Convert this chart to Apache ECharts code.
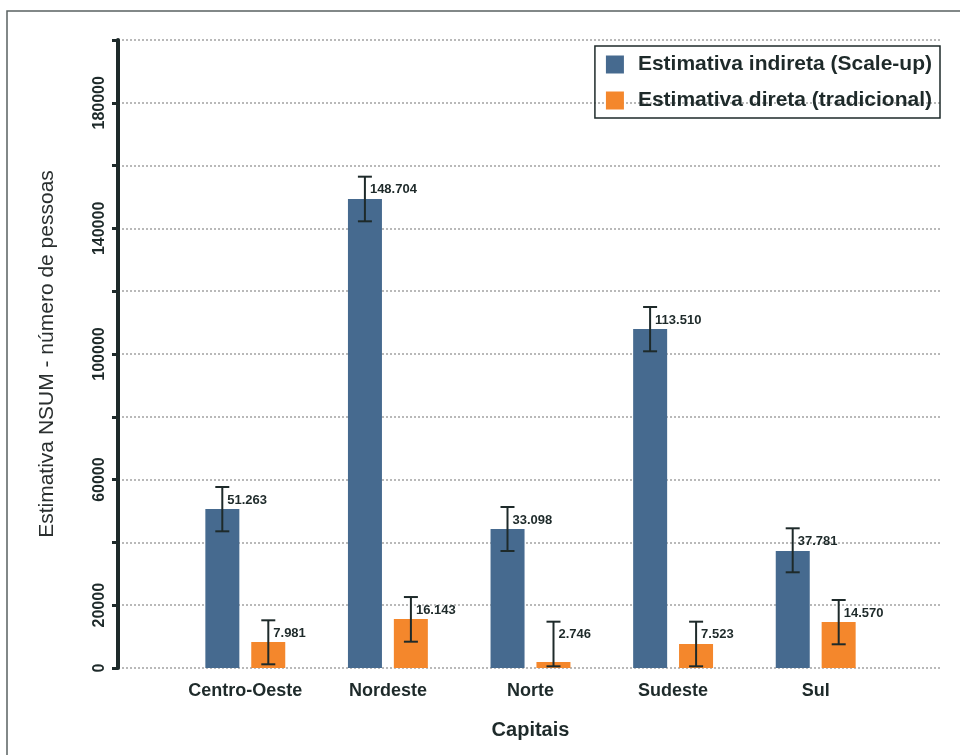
<!DOCTYPE html>
<html>
<head>
<meta charset="utf-8">
<script src="https://cdn.jsdelivr.net/npm/echarts@6/dist/echarts.min.js"></script>
<style>
  html, body { margin: 0; padding: 0; background: #ffffff; }
  #chart { width: 960px; height: 755px; }
</style>
</head>
<body>
<div id="chart"></div>
<script>
// ---- Data ----
const categories = ['Centro-Oeste', 'Nordeste', 'Norte', 'Sudeste', 'Sul'];
const seriesNames = ['Estimativa indireta (Scale-up)', 'Estimativa direta (tradicional)'];

const indiretaValues = [50640, 149360, 44270, 107960, 37260];
const indiretaLow    = [43530, 142260, 37260, 100860, 30480];
const indiretaHigh   = [57640, 156470, 51270, 114970, 44490];
const indiretaLabels = ['51.263', '148.704', '33.098', '113.510', '37.781'];

const diretaValues = [8280, 15600, 1910, 7640, 14650];
const diretaLow    = [1180, 8380, 540, 540, 7550];
const diretaHigh   = [15190, 22600, 14750, 14750, 21660];
const diretaLabels = ['7.981', '16.143', '2.746', '7.523', '14.570'];

const yTickLabels = [0, 20000, 60000, 100000, 140000, 180000];
const yMin = 0, yMax = 200000, yInterval = 20000;

// ---- Styles ----
const FONT = "'Liberation Sans', Arial, sans-serif";
const DARK = '#1e2a2a';
const BLUE = '#466a8f';
const ORANGE = '#f4872c';
const BAR_W = 34;
const BAR_OFFSET = 23;

function errorSeries(low, high, labels, offset) {
  return {
    type: 'custom',
    xAxisIndex: 1,
    yAxisIndex: 1,
    z: 10,
    silent: true,
    encode: { x: 0, y: [1, 2] },
    data: categories.map((c, i) => [i, low[i], high[i]]),
    renderItem: function (params, api) {
      const idx = api.value(0);
      const x = api.coord([idx, 0])[0] + offset;
      const yl = api.coord([idx, api.value(1)])[1];
      const yh = api.coord([idx, api.value(2)])[1];
      const st = { stroke: DARK, lineWidth: 2 };
      return {
        type: 'group',
        children: [
          { type: 'line', shape: { x1: x, y1: yl, x2: x, y2: yh }, style: st },
          { type: 'line', shape: { x1: x - 7, y1: yh, x2: x + 7, y2: yh }, style: st },
          { type: 'line', shape: { x1: x - 7, y1: yl, x2: x + 7, y2: yl }, style: st },
          {
            type: 'text',
            x: x + 5,
            y: yh + 13,
            style: {
              text: labels[params.dataIndex],
              fill: DARK,
              font: 'bold 13px ' + FONT,
              align: 'left',
              verticalAlign: 'middle'
            }
          }
        ]
      };
    }
  };
}

const chart = echarts.init(document.getElementById('chart'), null, { renderer: 'canvas' });

const option = {
  animation: false,
  backgroundColor: '#ffffff',
  textStyle: { fontFamily: FONT },
  graphic: [
    {
      type: 'rect',
      shape: { x: 7, y: 11, width: 1200, height: 1200 },
      style: { fill: 'none', stroke: '#5a6262', lineWidth: 1.5 },
      silent: true
    }
  ],
  legend: {
    data: seriesNames,
    orient: 'vertical',
    right: 20,
    top: 46,
    itemWidth: 18,
    itemHeight: 18,
    itemGap: 15,
    icon: 'rect',
    borderColor: DARK,
    borderWidth: 1.5,
    padding: [8, 8, 7, 11],
    textStyle: {
      fontFamily: FONT,
      fontSize: 21,
      fontWeight: 'bold',
      color: DARK,
      padding: [0, 0, 0, 9]
    }
  },
  grid: [
    { left: 118, right: 20, top: 40, bottom: 87 },
    { left: 174, right: 73, top: 40, bottom: 87 }
  ],
  xAxis: [
    { type: 'value', gridIndex: 0, show: false, min: 0, max: 1 },
    {
      type: 'category',
      gridIndex: 1,
      data: categories,
      axisLine: { show: false },
      axisTick: { show: false },
      axisLabel: {
        interval: 0,
        fontFamily: FONT,
        fontSize: 18,
        fontWeight: 'bold',
        color: DARK,
        margin: 14
      },
      name: 'Capitais',
      nameLocation: 'middle',
      nameGap: 52,
      nameTextStyle: {
        fontFamily: FONT,
        fontSize: 20,
        fontWeight: 'bold',
        color: DARK
      }
    }
  ],
  yAxis: [
    {
      type: 'value',
      gridIndex: 0,
      min: yMin,
      max: yMax,
      interval: yInterval,
      axisLine: { show: true, lineStyle: { color: DARK, width: 4 } },
      axisTick: { show: true, length: 6, lineStyle: { color: DARK, width: 3 } },
      axisLabel: {
        rotate: 90,
        margin: 10,
        fontFamily: FONT,
        fontSize: 16,
        fontWeight: 'bold',
        color: DARK,
        formatter: function (v) { return yTickLabels.indexOf(v) >= 0 ? String(v) : ''; }
      },
      splitLine: {
        show: true,
        lineStyle: { color: '#a3a3a3', width: 1.5, type: [2, 2] }
      },
      name: 'Estimativa NSUM - número de pessoas',
      nameLocation: 'middle',
      nameRotate: 90,
      nameGap: 60,
      nameTextStyle: {
        fontFamily: FONT,
        fontSize: 21,
        color: '#2a2f2f'
      }
    },
    {
      type: 'value',
      gridIndex: 1,
      min: yMin,
      max: yMax,
      interval: yInterval,
      show: false,
      splitLine: { show: false }
    }
  ],
  series: [
    {
      name: seriesNames[0],
      type: 'bar',
      xAxisIndex: 1,
      yAxisIndex: 1,
      data: indiretaValues,
      barWidth: BAR_W,
      barGap: '35%',
      itemStyle: { color: BLUE }
    },
    {
      name: seriesNames[1],
      type: 'bar',
      xAxisIndex: 1,
      yAxisIndex: 1,
      data: diretaValues,
      barWidth: BAR_W,
      barGap: '35%',
      itemStyle: { color: ORANGE }
    },
    errorSeries(indiretaLow, indiretaHigh, indiretaLabels, -BAR_OFFSET),
    errorSeries(diretaLow, diretaHigh, diretaLabels, BAR_OFFSET)
  ]
};

chart.setOption(option);
</script>
</body>
</html>
